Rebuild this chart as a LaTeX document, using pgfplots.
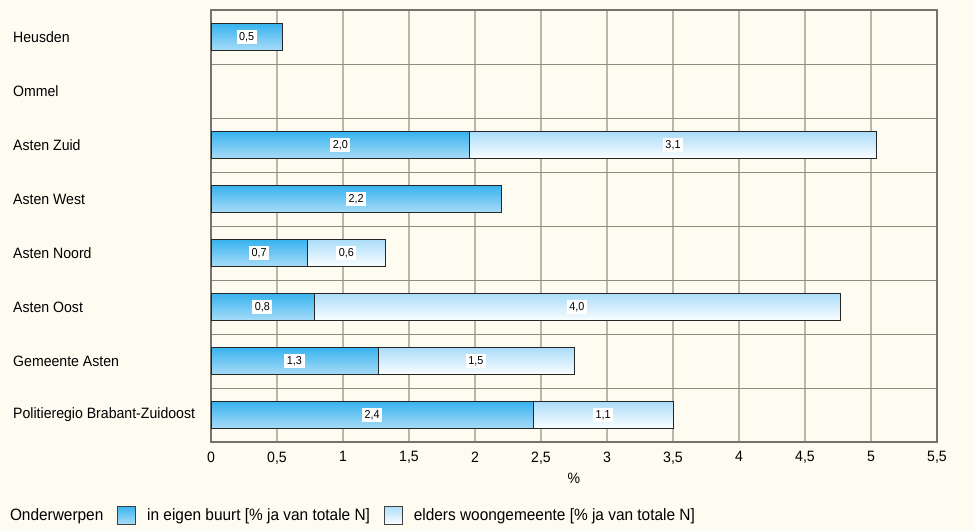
\documentclass[border=0pt]{standalone}
\usepackage{pgfplots}
\pgfplotsset{compat=1.18}
\usepackage{pgfplotstable}
\usepackage{fontspec}
\setmainfont[FakeStretch=0.94]{Liberation Sans}
\definecolor{bg}{HTML}{FEFBF0}
\definecolor{aTop}{HTML}{38B3EE}
\definecolor{aBot}{HTML}{A8DCF8}
\definecolor{bTop}{HTML}{AADCF9}
\definecolor{bBot}{HTML}{FCFEFF}
\definecolor{gridV}{HTML}{BAB6AA}
\definecolor{gridH}{HTML}{8E8A7C}
\definecolor{frame}{HTML}{77736A}

\pgfplotstableread{
y a
7 0.54
5 1.96
4 2.20
3 0.73
2 0.78
1 1.265
0 2.44
}\firstseries

\pgfplotstableread{
y end b
5 5.04 3.08
3 1.32 0.59
2 4.765 3.985
1 2.75 1.485
0 3.50 1.06
}\secondseries

\pgfplotsset{
  barA/.style={xbar, bar width=0.5, bar shift=0pt, draw=black!85, line width=0.9pt,
    top color=aTop, bottom color=aBot, forget plot},
  barB/.style={xbar, bar width=0.5, bar shift=0pt, draw=black!85, line width=0.9pt,
    top color=bTop, bottom color=bBot, forget plot},
}
\tikzset{
  vlabel/.style={anchor=center, fill=white, text=black, font=\fontsize{11.5}{13}\selectfont,
    inner xsep=2.5pt, inner ysep=2pt, text height=8.2pt, text depth=1pt},
}

\begin{document}
\begin{tikzpicture}
\useasboundingbox (0pt,0pt) rectangle (974pt,531pt);
\fill[bg] (0pt,0pt) rectangle (974pt,531pt);
\begin{axis}[
  at={(211pt,89pt)}, anchor=south west,
  scale only axis, width=726pt, height=432pt,
  xmin=0, xmax=5.5, ymin=-0.5, ymax=7.5,
  axis background/.style={fill=bg},
  axis line style={draw=frame, line width=1.6pt},
  xtick={0,0.5,...,5.5},
  ytick={0,...,7},
  yticklabels={Politieregio Brabant-Zuidoost, Gemeente Asten, Asten Oost, Asten Noord, Asten West, Asten Zuid, Ommel, Heusden},
  minor ytick={0.5,1.5,...,6.5},
  xmajorgrids, yminorgrids,
  major x grid style={draw=gridV, line width=1.3pt},
  minor y grid style={draw=gridH, line width=0.9pt},
  major tick length=0pt, minor tick length=0pt,
  /pgf/number format/assume math mode=true,
  /pgf/number format/use comma,
  xticklabel style={font=\fontsize{15}{18}\selectfont, yshift=-6pt},
  yticklabel style={font=\fontsize{15}{18}\selectfont, anchor=west, inner sep=0pt, xshift=-198pt},
  xlabel={\%},
  xlabel style={font=\fontsize{15}{18}\selectfont, yshift=-2pt},
  legend columns=-1,
  legend style={at={(-0.27686,-0.16898)}, anchor=west, draw=none, fill=none,
    inner sep=0pt, outer sep=0pt, column sep=0pt,
    font=\fontsize{16.4}{19}\selectfont,
    nodes={inner sep=0pt, anchor=west}},
  legend image code/.code={\path (-14pt,0pt); \draw[#1] (0pt,-9pt) rectangle (18pt,9pt); \path (29pt,0pt);},
  legend entries={Onderwerpen, in eigen buurt [\% ja van totale N], elders woongemeente [\% ja van totale N]},
]
\addlegendimage{empty legend}
\addlegendimage{draw=black!75, line width=0.8pt, top color=aTop, bottom color=aBot}
\addlegendimage{draw=black!75, line width=0.8pt, top color=bTop, bottom color=bBot}

% second series (elders): bars drawn to the end of the stacked total
\addplot[barB] coordinates {(5.04,5)};
\addplot[barB] coordinates {(1.32,3)};
\addplot[barB] coordinates {(4.765,2)};
\addplot[barB] coordinates {(2.75,1)};
\addplot[barB] coordinates {(3.50,0)};
% first series (eigen buurt), drawn on top
\addplot[barA] coordinates {(0.54,7)};
\addplot[barA] coordinates {(1.96,5)};
\addplot[barA] coordinates {(2.20,4)};
\addplot[barA] coordinates {(0.73,3)};
\addplot[barA] coordinates {(0.78,2)};
\addplot[barA] coordinates {(1.265,1)};
\addplot[barA] coordinates {(2.44,0)};

% value labels, centred in each segment
\addplot[only marks, mark=none, forget plot, point meta=explicit,
  visualization depends on={\thisrow{a} \as \sega},
  nodes near coords={\pgfmathprintnumber[fixed,fixed zerofill,precision=1,use comma]{\pgfplotspointmeta}},
  every node near coord/.append style={vlabel, xshift={-0.5*\sega*132pt}}]
  table[x=a, y=y, meta=a] {\firstseries};
\addplot[only marks, mark=none, forget plot, point meta=explicit,
  visualization depends on={\thisrow{b} \as \segb},
  nodes near coords={\pgfmathprintnumber[fixed,fixed zerofill,precision=1,use comma]{\pgfplotspointmeta}},
  every node near coord/.append style={vlabel, xshift={-0.5*\segb*132pt}}]
  table[x=end, y=y, meta=b] {\secondseries};
\end{axis}
\end{tikzpicture}
\end{document}
